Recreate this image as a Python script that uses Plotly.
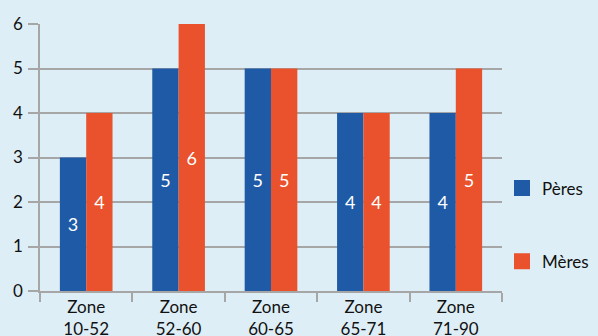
import plotly.graph_objects as go

categories = ["Zone<br>10-52", "Zone<br>52-60", "Zone<br>60-65", "Zone<br>65-71", "Zone<br>71-90"]
peres = [3, 5, 5, 4, 4]
meres = [4, 6, 5, 4, 5]

BLUE = "#1F5AA6"
ORANGE = "#E9522C"
BG = "#DEEEF6"
GRID = "#A6A6A6"
FONT = "Lato"

fig = go.Figure()
fig.add_trace(go.Bar(x=categories, y=peres, name="Pères", marker=dict(color=BLUE, line=dict(width=0)),
                     text=[str(v) for v in peres], textposition="inside", insidetextanchor="middle",
                     textfont=dict(color="white", size=18, family=FONT), showlegend=False))
fig.add_trace(go.Bar(x=categories, y=meres, name="Mères", marker=dict(color=ORANGE, line=dict(width=0)),
                     text=[str(v) for v in meres], textposition="inside", insidetextanchor="middle",
                     textfont=dict(color="white", size=18, family=FONT), showlegend=False))
# legend entries
fig.add_trace(go.Scatter(x=[None], y=[None], mode="markers", name="Pères", legendgroup="a",
                         marker=dict(symbol="square", size=22, color=BLUE)))
fig.add_trace(go.Scatter(x=[None], y=[None], mode="markers", name="Mères", legendgroup="b",
                         marker=dict(symbol="square", size=22, color=ORANGE)))

fig.update_layout(
    width=598, height=336,
    margin=dict(l=40, r=96, t=24, b=45, autoexpand=False),
    paper_bgcolor=BG, plot_bgcolor=BG,
    barmode="group", bargap=0.43, bargroupgap=0,
    font=dict(family=FONT, size=17, color="#111111"),
    uniformtext=dict(mode="show", minsize=10),
    legend=dict(x=1.0, xanchor="left", xref="paper", y=0.247, yanchor="middle",
                tracegroupgap=48, font=dict(size=17), itemwidth=30, bgcolor="rgba(0,0,0,0)"),
    xaxis=dict(showline=True, linecolor=GRID, linewidth=1.5, ticks="outside", tickson="boundaries",
               ticklen=9, tickcolor=GRID, tickwidth=1.5, tickfont=dict(size=17), showgrid=False,
               automargin=False),
    yaxis=dict(range=[0, 6], dtick=1, showline=True, linecolor=GRID, linewidth=1.5, showgrid=True,
               gridcolor=GRID, gridwidth=1.5, ticks="outside", ticklen=10, tickcolor=GRID, tickwidth=1.5,
               tickfont=dict(size=17), zeroline=False, ticklabelstandoff=2, automargin=False),
)
fig.write_html("out.html")
